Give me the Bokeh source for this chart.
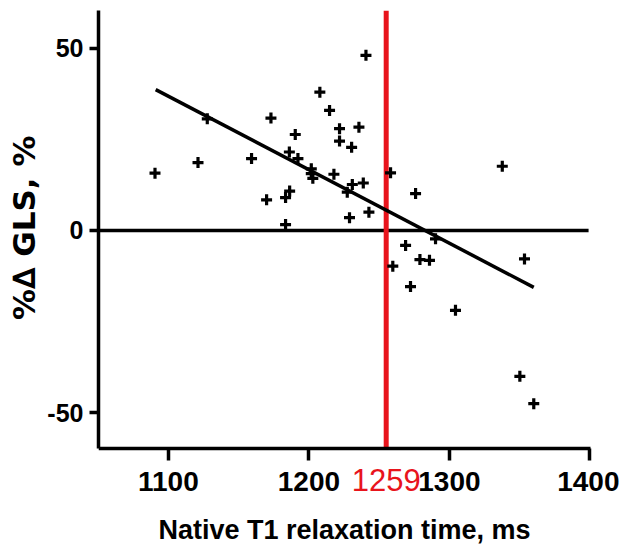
from bokeh.plotting import figure
from bokeh.models import Label, FixedTicker, Range1d, Title
from bokeh.embed import file_html
from bokeh.resources import INLINE

# Data
t1_ms = [1090.5, 1121.1, 1127.7, 1159.2, 1173.0, 1169.9, 1183.4, 1186.3, 1183.4,
         1186.1, 1190.3, 1192.2, 1201.7, 1202.8, 1201.7, 1207.8, 1214.7, 1217.8,
         1221.8, 1221.8, 1230.4, 1235.6, 1240.6, 1227.3, 1230.9, 1238.7, 1228.9,
         1242.7, 1258.1, 1275.9, 1337.6, 1268.8, 1290.1, 1259.7, 1279.0, 1285.8,
         1272.3, 1353.4, 1304.3, 1350.1, 1360.0]
delta_gls = [15.7, 18.6, 30.6, 19.7, 30.8, 8.4, 9.0, 10.8, 1.6,
             21.5, 26.3, 19.7, 16.9, 14.3, 15.6, 37.9, 32.9, 15.4,
             27.9, 24.5, 22.8, 28.3, 48.0, 10.5, 12.6, 13.0, 3.5,
             5.0, 15.8, 10.1, 17.6, -4.1, -2.3, -9.8, -8.0, -8.2,
             -15.4, -7.8, -21.9, -40.0, -47.5]

fit_x = [1091, 1360]
fit_y = [38.6, -15.6]

cutoff_x = 1255
cutoff_label = "1259"

x_ticks = [1100, 1200, 1300, 1400]
y_ticks = [-50, 0, 50]
y_tick_labels = {-50: "-50", 0: "0", 50: "50"}

x_title = "Native T1 relaxation time, ms"
y_title = "%∆ GLS, %"

x_lo, x_axis_hi, x_view_hi = 1050.3, 1400.5, 1421.0
zero_line_end = 1399
y_axis_lo, y_hi = -59.8, 60.3
y_view_lo = -88.3

p = figure(width=619, height=552, output_backend="svg", toolbar_location=None,
           x_range=Range1d(x_lo, x_view_hi), y_range=Range1d(y_view_lo, y_hi),
           min_border_left=98, min_border_right=0, min_border_top=10,
           min_border_bottom=0)
p.outline_line_color = None
p.grid.visible = False
p.background_fill_color = "white"

for ax in (p.xaxis[0], p.yaxis[0]):
    ax.axis_line_width = 3.5
    ax.axis_line_color = "black"
    ax.major_tick_line_width = 3.5
    ax.major_tick_in = 0
    ax.minor_tick_line_color = None
    ax.axis_label_text_font_style = "bold"
    ax.major_label_text_font_style = "bold"
    ax.axis_label_text_color = "black"
    ax.major_label_text_color = "black"

p.xaxis.fixed_location = y_axis_lo
p.xaxis.bounds = (x_lo, x_axis_hi)
p.xaxis.ticker = FixedTicker(ticks=x_ticks)
p.xaxis.major_tick_out = 12
p.xaxis.major_label_text_font = "Liberation Sans"
p.xaxis.major_label_text_font_size = "28px"
p.xaxis.major_label_standoff = 11
p.xaxis.axis_label = x_title
p.xaxis.axis_label_text_font = "Liberation Sans"
p.xaxis.axis_label_text_font_size = "27px"
p.xaxis.axis_label_standoff = 21

p.yaxis.bounds = (y_axis_lo, y_hi)
p.yaxis.ticker = FixedTicker(ticks=y_ticks)
p.yaxis.major_label_overrides = y_tick_labels
p.yaxis.major_tick_out = 9
p.yaxis.major_label_text_font = "Liberation Sans"
p.yaxis.major_label_text_font_size = "25px"
p.yaxis.major_label_standoff = 6

p.add_layout(Title(text=y_title, align="right", offset=125, standoff=6,
                   text_font="DejaVu Sans", text_font_size="31px",
                   text_font_style="bold", text_color="black"), "left")

p.line([x_lo, zero_line_end], [0, 0], line_color="black", line_width=3.5)
p.line([cutoff_x, cutoff_x], [y_axis_lo, y_hi], line_color="#e8141c", line_width=5)

p.line(fit_x, fit_y, line_color="black", line_width=3.5)
p.scatter(t1_ms, delta_gls, marker="cross", size=11, line_width=3.2, line_color="black")

p.add_layout(Label(x=cutoff_x, y=-68.5, text=cutoff_label, text_align="center",
                   text_baseline="alphabetic", text_color="#e8141c",
                   text_font="Liberation Sans", text_font_size="31px"))

open("out.html", "w").write(file_html(p, INLINE))
